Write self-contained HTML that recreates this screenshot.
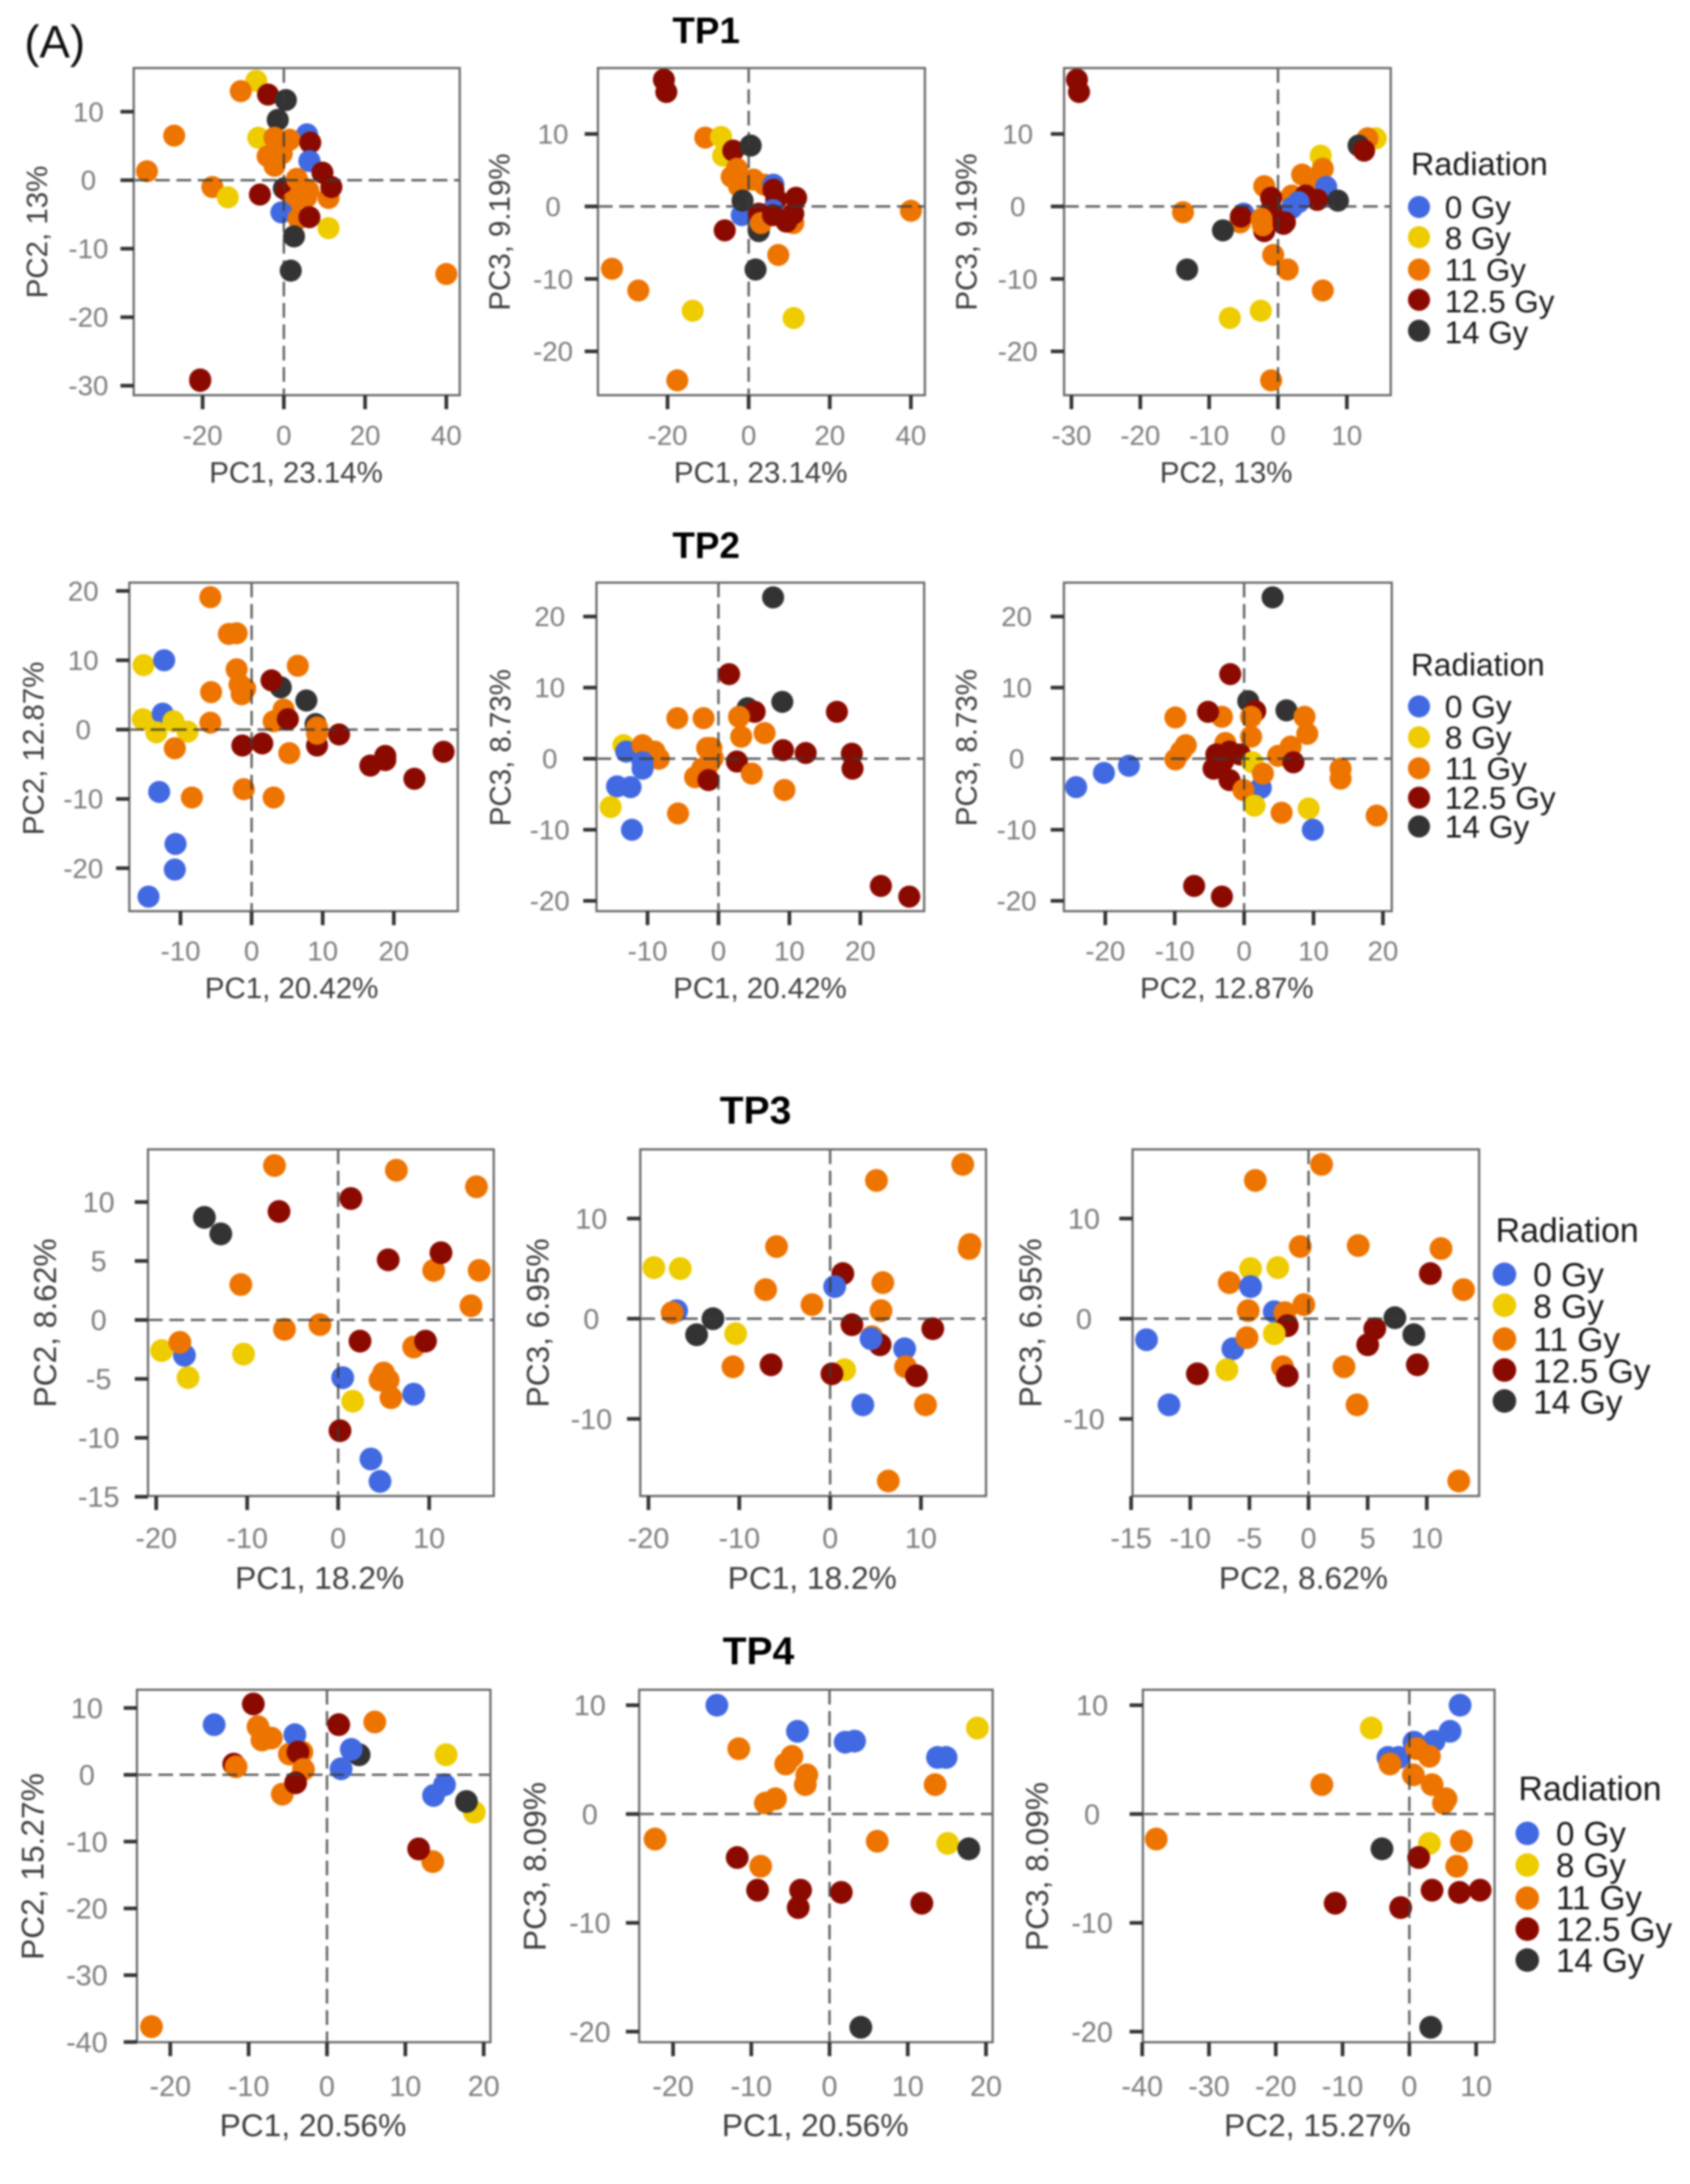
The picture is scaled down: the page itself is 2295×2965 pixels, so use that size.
<!DOCTYPE html>
<html lang="en">
<head>
<meta charset="utf-8">
<title>PCA score plots by radiation dose, TP1 to TP4</title>
<style>
  html, body { margin: 0; padding: 0; background: #ffffff; }
  svg { display: block; font-family: "Liberation Sans", Arial, sans-serif; filter: blur(1.25px); }
  .ax { font-size: 40px; fill: #3d3d3d; text-anchor: middle; }
  .ax-lg { font-size: 43px; fill: #3d3d3d; text-anchor: middle; }
  .tp { font-size: 50px; font-weight: bold; fill: #000; text-anchor: middle; }
  .tp-lg { font-size: 53px; font-weight: bold; fill: #000; text-anchor: middle; }
  .lgt { fill: #1a1a1a; }
  .tick-label { fill: #7d7d7d; text-anchor: middle; }
</style>
</head>
<body>
<svg id="figure" xmlns="http://www.w3.org/2000/svg" width="2295" height="2965" viewBox="0 0 2295 2965">
  <rect x="0" y="0" width="2295" height="2965" fill="#ffffff"/>
  <g id="plots"></g>

  <text x="33" y="78" font-size="62" fill="#111">(A)</text>
  <text class="tp" x="959" y="41" dy=".35em">TP1</text>
  <text class="tp" x="959" y="740" dy=".35em">TP2</text>
  <text class="tp-lg" x="1026" y="1507" dy=".35em">TP3</text>
  <text class="tp-lg" x="1030" y="2241" dy=".35em">TP4</text>

  <text class="ax" x="402" y="641" dy=".35em">PC1, 23.14%</text>
  <text class="ax" x="1033" y="641" dy=".35em">PC1, 23.14%</text>
  <text class="ax" x="1665" y="641" dy=".35em">PC2, 13%</text>
  <text class="ax" transform="translate(50,315) rotate(-90)" dy=".35em">PC2, 13%</text>
  <text class="ax" transform="translate(678,315) rotate(-90)" dy=".35em">PC3, 9.19%</text>
  <text class="ax" transform="translate(1312,315) rotate(-90)" dy=".35em">PC3, 9.19%</text>

  <text class="ax" x="396" y="1341" dy=".35em">PC1, 20.42%</text>
  <text class="ax" x="1032" y="1341" dy=".35em">PC1, 20.42%</text>
  <text class="ax" x="1666" y="1341" dy=".35em">PC2, 12.87%</text>
  <text class="ax" transform="translate(45,1016) rotate(-90)" dy=".35em">PC2, 12.87%</text>
  <text class="ax" transform="translate(679,1015) rotate(-90)" dy=".35em">PC3, 8.73%</text>
  <text class="ax" transform="translate(1312,1015) rotate(-90)" dy=".35em">PC3, 8.73%</text>

  <text class="ax-lg" x="434" y="2142" dy=".35em">PC1, 18.2%</text>
  <text class="ax-lg" x="1103" y="2142" dy=".35em">PC1, 18.2%</text>
  <text class="ax-lg" x="1770" y="2142" dy=".35em">PC2, 8.62%</text>
  <text class="ax-lg" transform="translate(61,1796) rotate(-90)" dy=".35em">PC2, 8.62%</text>
  <text class="ax-lg" transform="translate(730,1796) rotate(-90)" dy=".35em">PC3, 6.95%</text>
  <text class="ax-lg" transform="translate(1399,1796) rotate(-90)" dy=".35em">PC3, 6.95%</text>

  <text class="ax-lg" x="425" y="2885" dy=".35em">PC1, 20.56%</text>
  <text class="ax-lg" x="1107" y="2885" dy=".35em">PC1, 20.56%</text>
  <text class="ax-lg" x="1789" y="2885" dy=".35em">PC2, 15.27%</text>
  <text class="ax-lg" transform="translate(44,2534) rotate(-90)" dy=".35em">PC2, 15.27%</text>
  <text class="ax-lg" transform="translate(726,2534) rotate(-90)" dy=".35em">PC3, 8.09%</text>
  <text class="ax-lg" transform="translate(1408,2534) rotate(-90)" dy=".35em">PC3, 8.09%</text>

  <g font-size="42.5">
    <text class="lgt" x="1916" y="222" dy=".35em" font-size="44">Radiation</text>
    <circle cx="1927" cy="281" r="15" fill="#4169E1"/>
    <text class="lgt" x="1962" y="281" dy=".35em">0 Gy</text>
    <circle cx="1927" cy="322" r="15" fill="#EECC00"/>
    <text class="lgt" x="1962" y="323" dy=".35em">8 Gy</text>
    <circle cx="1927" cy="366" r="15" fill="#EE7400"/>
    <text class="lgt" x="1962" y="366" dy=".35em">11 Gy</text>
    <circle cx="1927" cy="407" r="15" fill="#8B0A00"/>
    <text class="lgt" x="1962" y="409" dy=".35em">12.5 Gy</text>
    <circle cx="1927" cy="449" r="15" fill="#333333"/>
    <text class="lgt" x="1962" y="451" dy=".35em">14 Gy</text>
  </g>
  <g font-size="43">
    <text class="lgt" x="1916" y="902" dy=".35em" font-size="43">Radiation</text>
    <circle cx="1927" cy="959" r="15" fill="#4169E1"/>
    <text class="lgt" x="1962" y="959" dy=".35em">0 Gy</text>
    <circle cx="1927" cy="1001" r="15" fill="#EECC00"/>
    <text class="lgt" x="1962" y="1001" dy=".35em">8 Gy</text>
    <circle cx="1927" cy="1043" r="15" fill="#EE7400"/>
    <text class="lgt" x="1962" y="1043" dy=".35em">11 Gy</text>
    <circle cx="1927" cy="1083" r="15" fill="#8B0A00"/>
    <text class="lgt" x="1962" y="1083" dy=".35em">12.5 Gy</text>
    <circle cx="1927" cy="1122" r="15" fill="#333333"/>
    <text class="lgt" x="1962" y="1122" dy=".35em">14 Gy</text>
  </g>
  <g font-size="45.5">
    <text class="lgt" x="2031" y="1670" dy=".35em" font-size="46">Radiation</text>
    <circle cx="2043" cy="1730" r="16" fill="#4169E1"/>
    <text class="lgt" x="2082" y="1730" dy=".35em">0 Gy</text>
    <circle cx="2043" cy="1772" r="16" fill="#EECC00"/>
    <text class="lgt" x="2082" y="1773" dy=".35em">8 Gy</text>
    <circle cx="2043" cy="1818" r="16" fill="#EE7400"/>
    <text class="lgt" x="2082" y="1818" dy=".35em">11 Gy</text>
    <circle cx="2043" cy="1860" r="16" fill="#8B0A00"/>
    <text class="lgt" x="2082" y="1861" dy=".35em">12.5 Gy</text>
    <circle cx="2043" cy="1902" r="16" fill="#333333"/>
    <text class="lgt" x="2082" y="1903" dy=".35em">14 Gy</text>
  </g>
  <g font-size="45">
    <text class="lgt" x="2062" y="2428" dy=".35em" font-size="46">Radiation</text>
    <circle cx="2074" cy="2489" r="16" fill="#4169E1"/>
    <text class="lgt" x="2113" y="2489" dy=".35em">0 Gy</text>
    <circle cx="2074" cy="2532" r="16" fill="#EECC00"/>
    <text class="lgt" x="2113" y="2532" dy=".35em">8 Gy</text>
    <circle cx="2074" cy="2577" r="16" fill="#EE7400"/>
    <text class="lgt" x="2113" y="2576" dy=".35em">11 Gy</text>
    <circle cx="2074" cy="2619" r="16" fill="#8B0A00"/>
    <text class="lgt" x="2113" y="2619" dy=".35em">12.5 Gy</text>
    <circle cx="2074" cy="2661" r="16" fill="#333333"/>
    <text class="lgt" x="2113" y="2661" dy=".35em">14 Gy</text>
  </g>
</svg>

<script>
// Group index: 0 = 0 Gy, 1 = 8 Gy, 2 = 11 Gy, 3 = 12.5 Gy, 4 = 14 Gy
const groupNames = ['0-gy', '8-gy', '11-gy', '12-5-gy', '14-gy'];
const groupColors = ['#4169E1', '#EECC00', '#EE7400', '#8B0A00', '#333333'];

// Each row: [group, x value, y value], in drawing order.
const tp1Pc1Pc2 = [
  [1,-6.8,14.5],[2,-10.6,13.0],[3,-3.9,12.5],[4,0.5,11.7],[4,-1.5,8.8],[2,-27,6.5],[1,-6.3,6.2],
  [0,5.7,6.7],[0,6.3,2.8],[2,-2.3,6.2],[2,1.4,5.9],[2,-4,3.5],[2,-0.5,3.9],[2,-2.3,2.1],[3,6.5,5.5],[0,6.3,2.8],
  [3,9.5,1.1],[2,11,-2.6],[3,11.7,-1.0],[2,-33.7,1.3],[2,-17.6,-1.0],[1,-13.8,-2.5],[3,-5.9,-2.1],
  [4,0,-1.2],[3,0.8,-1.5],[2,3.2,0.2],[2,2.3,-3.1],[2,4,-2.1],[2,5,-1.2],[2,6,-1.5],[2,5.5,-2.5],[0,-0.6,-4.7],[2,3.6,-5.6],
  [3,6.3,-5.4],[1,11,-7],[4,2.5,-8.2],[4,1.7,-13.2],[2,40,-13.7],[3,-20.6,-29.3],[3,-20.6,-29.1]
];
const tp1Pc1Pc3 = [
  [3,-20.9,17.5],[3,-20.3,15.8],[2,-10.7,9.5],[1,-6.8,9.6],[1,-6.3,7],[3,-3.8,7.7],[4,0.5,8.4],
  [2,-2.9,5.2],[2,-4.2,4.1],[2,-2.4,2.8],[2,1.2,3.7],[2,3.9,3],[0,6.1,3],[3,6.1,2.3],[3,6.8,1.0],[3,11.7,1.2],
  [0,-1.7,-1.2],[4,-1.5,0.8],[0,6,-0.5],[4,2.5,-3.4],[3,2.5,-1],[2,3,-2.3],[2,11,-2.3],[3,6,-1.2],[3,11,-1],[3,9.3,-2.1],
  [3,-5.9,-3.3],[2,7.3,-6.7],[4,1.7,-8.7],[2,-33.7,-8.6],[2,-27.2,-11.6],[1,-13.8,-14.4],[1,11.1,-15.4],
  [2,-17.6,-24],[2,40,-0.6]
];
const tp1Pc2Pc3 = [
  [3,-29.2,17.5],[3,-28.9,15.8],[1,14.2,9.4],[2,13,9.4],[4,11.7,8.4],[3,12.5,7.7],[1,6.2,7],
  [2,6.5,5.2],[2,3.5,4.4],[2,5,3.8],[2,6,3.1],[0,7,2.7],[2,-2,2.8],[2,2,1.5],[3,4,1.5],[3,5.7,0.9],
  [0,3,0.6],[0,2,-0.2],[3,-1,1.2],[3,-1,-0.5],[4,8.7,0.8],[2,-13.8,-0.8],[0,-5,-1],[2,-5.5,-2.2],[3,-5.4,-1.4],
  [3,-2,-3.4],[2,-2.4,-1.7],[2,-2.2,-2.6],[3,1,-2.2],[3,0.8,-2.4],[4,-8,-3.3],[2,-0.7,-6.7],[2,1.4,-8.7],
  [4,-13.2,-8.7],[2,6.5,-11.6],[1,-2.5,-14.4],[1,-7,-15.4],[2,-1,-24]
];
const tp2Pc1Pc2 = [
  [2,-5.8,19.1],[2,-3.2,13.8],[2,-2.1,13.9],[1,-15.2,9.3],[0,-12.3,10],[2,-2.1,8.7],[2,6.5,9.2],
  [4,4.1,6.1],[3,2.8,7.1],[4,7.7,4.2],[2,-1.7,6.5],[2,-0.9,5.9],[2,-1.4,5.1],[2,-5.7,5.4],[2,4.5,2.9],
  [2,3.1,1.2],[3,5.1,1.5],[1,-15.3,1.5],[0,-12.5,2.3],[1,-11,1.2],[1,-13.4,-0.4],[1,-9,-0.3],[2,-5.8,1],
  [3,9.2,-2.3],[4,9,0.8],[2,9.2,0.3],[2,9.2,-0.6],[3,12.3,-0.7],[2,-10.8,-2.7],[3,-1.3,-2.3],[3,1.5,-2],
  [2,5.3,-3.4],[3,16.7,-5.2],[3,18.8,-3.8],[3,18.8,-4.4],[3,22.9,-7.1],[3,27,-3.2],[0,-13,-9],[2,-8.4,-9.8],
  [2,-1.1,-8.6],[2,3.1,-9.8],[0,-10.7,-16.5],[0,-10.8,-20.2],[0,-14.5,-24.1]
];
const tp2Pc1Pc3 = [
  [4,7.7,22.7],[3,1.5,11.9],[4,9,8],[3,16.7,6.6],[4,4.1,7.1],[3,5.1,6.6],[2,-5.8,5.7],[2,-2.1,5.7],[2,2.9,5.9],
  [2,6.5,3.6],[2,3.2,3.1],[3,9.1,1.2],[3,12.3,0.8],[3,18.8,0.7],[3,18.9,-1.4],[1,-13.4,1.9],[0,-13,1],
  [2,-10.7,1.9],[2,-9,1],[2,-8.4,0],[2,-1.6,1.5],[2,-1,1.5],[2,-0.8,0.1],[2,-1.4,-0.8],[2,-2.3,-1.4],[2,-3.3,-2.6],
  [0,-10.7,-0.5],[0,-10.7,-1.4],[3,-1.4,-3],[3,2.6,-0.4],[2,4.7,-2.1],[2,9.3,-4.4],[0,-14.3,-3.9],[0,-12.4,-4],
  [1,-15.2,-6.8],[2,-5.7,-7.7],[0,-12.2,-10],[3,22.9,-17.9],[3,26.9,-19.4]
];
const tp2Pc2Pc3 = [
  [4,4.1,22.7],[3,-2,11.9],[4,0.6,8.1],[3,1.6,6.7],[4,6.1,6.8],[2,8.7,5.9],[2,9.1,3.5],[2,-9.9,5.8],
  [2,-3.2,5.9],[3,-5.2,6.6],[2,1,5.9],[2,1,3.1],[2,-8.4,1.9],[2,-9.1,1],[2,-9.9,-0.1],[2,-2.7,2.2],[2,6.7,1.7],
  [2,4.9,0.4],[3,-2.1,1],[3,-4,0.6],[3,-0.6,0.6],[3,-3,-0.3],[3,-4.4,-1.4],[3,-2.1,-3],[3,7.1,-0.5],[1,1.2,-0.5],
  [0,2.4,-4.1],[2,2.7,-2.1],[2,13.9,-1.4],[2,13.9,-2.8],[2,-0.1,-4.4],[1,1.5,-6.6],[1,9.3,-7],[2,5.4,-7.6],
  [0,9.9,-10],[2,19.1,-8],[0,-16.6,-1],[0,-20.2,-2],[0,-24.2,-4],[3,-7.2,-17.9],[3,-3.2,-19.4]
];
const tp3Pc1Pc2 = [
  [2,-7,13.1],[2,6.4,12.7],[2,15.2,11.3],[3,1.4,10.3],[3,-6.5,9.2],[4,-14.7,8.7],[4,-12.9,7.3],[3,5.5,5.1],
  [2,10.5,4.2],[3,11.3,5.7],[2,15.5,4.2],[2,-10.7,3],[2,14.6,1.2],[2,-5.9,-0.8],[2,-2,-0.4],[3,2.4,-1.8],
  [2,8.3,-2.3],[3,9.6,-1.8],[1,-19.4,-2.6],[0,-16.9,-3],[2,-17.4,-1.9],[1,-10.4,-2.9],[1,-16.5,-4.9],[0,0.5,-4.9],
  [0,8.3,-6.3],[2,5,-4.5],[2,4.6,-5.1],[2,5.5,-5.1],[2,5.8,-6.6],[1,1.6,-6.9],[3,0.2,-9.4],[0,3.6,-11.8],[0,4.6,-13.7]
];
const tp3Pc1Pc3 = [
  [2,14.6,15.4],[2,5.1,13.8],[2,15.4,7.4],[2,15.3,7],[2,-5.9,7.2],[1,-19.4,5.1],[1,-16.5,5],[3,1.4,4.5],[0,0.5,3.2],
  [2,5.8,3.6],[2,-7.1,2.9],[2,-2,1.4],[2,5.6,0.8],[0,-16.9,0.8],[2,-17.4,0.6],[4,-12.9,0],[4,-14.7,-1.6],
  [1,-10.4,-1.5],[3,2.4,-0.6],[3,11.3,-1],[2,4.6,-1.8],[3,5.5,-2.6],[0,4.5,-2],[0,8.2,-3],[2,8.3,-4.8],[3,9.5,-5.7],
  [2,-10.7,-4.8],[3,-6.5,-4.6],[1,1.6,-5.1],[3,0.2,-5.5],[0,3.6,-8.6],[2,10.5,-8.6],[2,6.4,-16.2]
];
const tp3Pc2Pc3 = [
  [2,1.1,15.4],[2,-4.5,13.8],[2,-0.7,7.2],[2,4.2,7.3],[2,11.2,7],[2,13.1,2.9],[3,10.3,4.5],[1,-4.9,5],[1,-2.6,5.1],
  [2,-6.7,3.6],[0,-4.9,3.2],[0,-2.9,0.7],[2,-0.4,1.4],[2,-5.1,0.8],[2,-2,0.6],[3,-1.8,-0.7],[1,-2.9,-1.5],
  [0,-6.4,-3],[2,-5.2,-1.9],[0,-13.7,-2.1],[3,-9.4,-5.5],[1,-6.9,-5.1],[0,-11.8,-8.6],[2,-2.2,-4.8],[3,-1.8,-5.7],
  [2,3,-4.8],[2,4.1,-8.6],[2,12.7,-16.2],[3,5.6,-1],[3,5,-2.6],[4,7.3,0.1],[4,8.9,-1.6],[3,9.2,-4.6]
];
const tp4Pc1Pc2 = [
  [3,-9.4,10.6],[0,-14.4,7.5],[2,-8.8,7.2],[2,-8.3,5.2],[2,-7.1,5.5],[2,-4.8,3.1],[2,-3.2,3.4],[0,-4.1,6],
  [3,-3.7,3.4],[3,1.5,7.5],[2,6.1,7.9],[4,4.1,3],[0,3.1,3.8],[0,1.8,0.9],[1,15.2,3],[3,-11.9,1.6],[2,-11.6,1.2],
  [2,-3,0.8],[2,-5.7,-2.9],[3,-4,-1.2],[0,13.6,-3.1],[0,15,-1.5],[1,18.8,-5.6],[4,17.8,-4],[2,13.5,-13],[3,11.7,-11.1],
  [2,-22.4,-37.7]
];
const tp4Pc1Pc3 = [
  [0,-14.4,10],[0,-4.1,7.6],[0,2,6.6],[0,3.2,6.7],[0,13.8,5.2],[0,14.9,5.2],[1,18.9,7.9],[2,-11.6,6],[2,-4.8,5.3],
  [2,-5.6,4.6],[2,-2.9,3.6],[2,-3.1,2.7],[2,-6.9,1.4],[2,-8.2,1],[2,13.5,2.7],[2,-22.3,-2.3],[2,6.1,-2.5],
  [1,15.1,-2.7],[4,17.8,-3.2],[3,-11.8,-4],[2,-8.8,-4.8],[3,-9.2,-7],[3,-3.7,-7],[3,-4,-8.6],[3,1.5,-7.2],
  [3,11.8,-8.2],[4,4,-19.6]
];
const tp4Pc2Pc3 = [
  [0,7.6,10],[0,6.1,7.6],[0,3.7,6.7],[0,0.7,6.6],[0,-3.2,5.2],[0,-1.6,5.2],[1,-5.7,7.9],[2,1.1,6],[2,3,5.3],
  [2,-2.9,4.6],[2,0.6,3.6],[2,3.4,2.7],[2,5.5,1.4],[2,5.1,1],[2,-13.1,2.7],[2,-37.9,-2.3],[2,7.8,-2.5],
  [1,3,-2.7],[4,-4.1,-3.2],[3,1.4,-4],[2,7.1,-4.8],[3,3.4,-7],[3,7.5,-7.2],[3,10.6,-7],[3,-1.3,-8.6],
  [3,-11.1,-8.2],[4,3.2,-19.6]
];

// Axis tick labels
const ticksTp1Pc1 = [-20, 0, 20, 40];
const ticksTp1Pc2 = [-30, -20, -10, 0, 10];
const ticksTp1Pc3 = [-20, -10, 0, 10];
const ticksTp2Pc1 = [-10, 0, 10, 20];
const ticksTp2Pc2 = [-20, -10, 0, 10, 20];
const ticksTp2Pc3 = [-20, -10, 0, 10, 20];
const ticksTp3Pc1 = [-20, -10, 0, 10];
const ticksTp3Pc2X = [-15, -10, -5, 0, 5, 10];
const ticksTp3Pc2Y = [-15, -10, -5, 0, 5, 10];
const ticksTp3Pc3 = [-10, 0, 10];
const ticksTp4Pc1 = [-20, -10, 0, 10, 20];
const ticksTp4Pc2X = [-40, -30, -20, -10, 0, 10];
const ticksTp4Pc2Y = [-40, -30, -20, -10, 0, 10];
const ticksTp4Pc3 = [-20, -10, 0, 10];

const panels = [
  {name:'tp1-pc1-pc2', box:[181.6,624.3,92.4,536.5], xlim:[-36.96,43.3], ylim:[-31.39,16.37], xt:ticksTp1Pc1, yt:ticksTp1Pc2, pts:tp1Pc1Pc2, yl:120, xl:590.7, r:15, tf:37.5},
  {name:'tp1-pc1-pc3', box:[812,1256,92.4,536.5], xlim:[-37.16,43.45], ylim:[-26.05,19.1], xt:ticksTp1Pc1, yt:ticksTp1Pc3, pts:tp1Pc1Pc3, yl:751, xl:590.7, r:15, tf:37.5},
  {name:'tp1-pc2-pc3', box:[1445,1888.6,92.4,536.5], xlim:[-31.07,16.37], ylim:[-26.05,19.1], xt:ticksTp1Pc2, yt:ticksTp1Pc3, pts:tp1Pc2Pc3, yl:1382, xl:590.7, r:15, tf:37.5},
  {name:'tp2-pc1-pc2', box:[175.6,621.7,791,1237], xlim:[-17.2,29.0], ylim:[-26.2,21.2], xt:ticksTp2Pc1, yt:ticksTp2Pc2, pts:tp2Pc1Pc2, yl:113, xl:1291, r:15, tf:37.5},
  {name:'tp2-pc1-pc3', box:[810,1255,791,1237], xlim:[-17.2,29.0], ylim:[-21.45,24.77], xt:ticksTp2Pc1, yt:ticksTp2Pc3, pts:tp2Pc1Pc3, yl:746.5, xl:1291, r:15, tf:37.5},
  {name:'tp2-pc2-pc3', box:[1444.8,1890,791,1237], xlim:[-25.96,21.27], ylim:[-21.45,24.77], xt:ticksTp2Pc2, yt:ticksTp2Pc3, pts:tp2Pc2Pc3, yl:1380.5, xl:1291, r:15, tf:37.5},
  {name:'tp3-pc1-pc2', box:[201,670.5,1560.4,2031], xlim:[-20.9,17.1], ylim:[-14.94,14.47], xt:ticksTp3Pc1, yt:ticksTp3Pc2Y, pts:tp3Pc1Pc2, yl:134, xl:2088, r:15.5, tf:39},
  {name:'tp3-pc1-pc3', box:[869.5,1339,1560.4,2031], xlim:[-20.9,17.16], ylim:[-17.7,16.9], xt:ticksTp3Pc1, yt:ticksTp3Pc3, pts:tp3Pc1Pc3, yl:803, xl:2088, r:15.5, tf:39},
  {name:'tp3-pc2-pc3', box:[1538,2008.6,1560.4,2031], xlim:[-14.88,14.42], ylim:[-17.7,16.9], xt:ticksTp3Pc2X, yt:ticksTp3Pc3, pts:tp3Pc2Pc3, yl:1472, xl:2088, r:15.5, tf:39},
  {name:'tp4-pc1-pc2', box:[186,666,2294,2772.5], xlim:[-24.25,20.86], ylim:[-40.03,12.73], xt:ticksTp4Pc1, yt:ticksTp4Pc2Y, pts:tp4Pc1Pc2, yl:118, xl:2832, r:15.5, tf:39},
  {name:'tp4-pc1-pc3', box:[868,1348,2294,2772.5], xlim:[-24.33,20.85], ylim:[-20.97,11.42], xt:ticksTp4Pc1, yt:ticksTp4Pc3, pts:tp4Pc1Pc3, yl:801, xl:2832, r:15.5, tf:39},
  {name:'tp4-pc2-pc3', box:[1552,2029.6,2294,2772.5], xlim:[-39.9,12.76], ylim:[-20.97,11.42], xt:ticksTp4Pc2X, yt:ticksTp4Pc3, pts:tp4Pc2Pc3, yl:1483, xl:2832, r:15.5, tf:39}
];

const NS = 'http://www.w3.org/2000/svg';
function make(tag, parent, props) {
  const el = document.createElementNS(NS, tag);
  for (const k in props) el.setAttribute(k, props[k]);
  parent.appendChild(el);
  return el;
}

function drawPanel(p) {
  const root = document.getElementById('plots');
  const left = p.box[0], right = p.box[1], top = p.box[2], bottom = p.box[3];
  const sx = v => left + (v - p.xlim[0]) / (p.xlim[1] - p.xlim[0]) * (right - left);
  const sy = v => top + (p.ylim[1] - v) / (p.ylim[1] - p.ylim[0]) * (bottom - top);

  const g = make('g', root, {});
  
  

  p.pts.forEach(function (row) {
    const dot = make('circle', g, {cx: sx(row[1]), cy: sy(row[2]), r: p.r, fill: groupColors[row[0]]});
    
    
  });

  const hline = make('line', g, {x1: left, x2: right, y1: sy(0), y2: sy(0), stroke: '#3a3a3a', 'stroke-width': 3.2, 'stroke-dasharray': '20 9', opacity: 0.8});
  
  
  const vline = make('line', g, {x1: sx(0), x2: sx(0), y1: top, y2: bottom, stroke: '#3a3a3a', 'stroke-width': 3.2, 'stroke-dasharray': '20 9', opacity: 0.8});
  
  

  const frame = make('rect', g, {x: left, y: top, width: right - left, height: bottom - top, fill: 'none', stroke: '#6a6a6a', 'stroke-width': 3});
  
  

  p.xt.forEach(function (v) {
    const tick = make('line', g, {x1: sx(v), x2: sx(v), y1: bottom, y2: bottom + 19, stroke: '#333333', 'stroke-width': 5});
    
    
    const label = make('text', g, {x: sx(v), y: p.xl, dy: '.35em', 'class': 'tick-label', 'font-size': p.tf});
    
    
    label.textContent = String(v);
  });
  p.yt.forEach(function (v) {
    const tick = make('line', g, {x1: left - 18, x2: left, y1: sy(v), y2: sy(v), stroke: '#333333', 'stroke-width': 5});
    
    
    const label = make('text', g, {x: p.yl, y: sy(v), dy: '.35em', 'class': 'tick-label', 'font-size': p.tf});
    
    
    label.textContent = String(v);
  });
}

panels.forEach(drawPanel);
</script>
</body>
</html>
